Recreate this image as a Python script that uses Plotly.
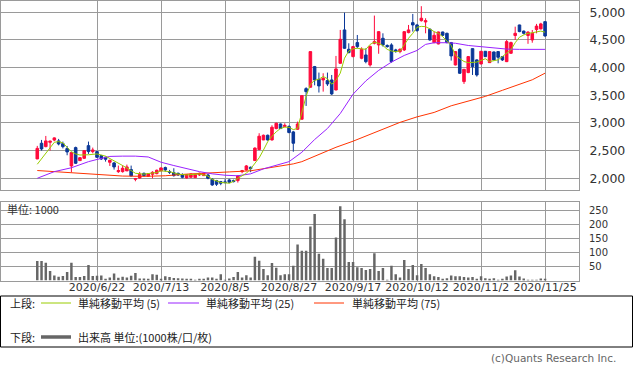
import plotly.graph_objects as go

# ---------------- data ----------------
jun = [2, 3, 4, 5, 8, 9, 10, 11, 12, 15, 16, 17, 18, 19, 22, 23, 24, 25, 26, 29, 30]
jul = [1, 2, 3, 6, 7, 8, 9, 10, 13, 14, 15, 16, 17, 20, 21, 22, 27, 28, 29, 30, 31]
aug = [3, 4, 5, 6, 7, 11, 12, 13, 14, 17, 18, 19, 20, 21, 24, 25, 26, 27, 28, 31]
sep = [1, 2, 3, 4, 7, 8, 9, 10, 11, 14, 15, 16, 17, 18, 23, 24, 25, 28, 29, 30]
octo = [1, 2, 5, 6, 7, 8, 9, 12, 13, 14, 15, 16, 19, 20, 21, 22, 23, 26, 27, 28, 29, 30]
nov = [2, 4, 5, 6, 9, 10, 11, 12, 13, 16, 17, 18, 19, 20, 24, 25]
dates = ([f"2020/6/{d}" for d in jun] + [f"2020/7/{d}" for d in jul] +
         [f"2020/8/{d}" for d in aug] + [f"2020/9/{d}" for d in sep] +
         [f"2020/10/{d}" for d in octo] + [f"2020/11/{d}" for d in nov])

tick_labels = ["2020/6/22", "2020/7/13", "2020/8/5", "2020/8/27",
               "2020/9/17", "2020/10/12", "2020/11/2", "2020/11/25"]

opens = [2350, 2633, 2572, 2650, 2690, 2675, 2626, 2536, 2223, 2554,
         2319, 2361, 2590, 2482, 2482, 2410, 2379, 2289, 2277, 2120,
         2120, 2133, 2157, 1982, 2006, 2090, 2036, 2072, 2084, 2133,
         2193, 2120, 2102, 2090, 2066, 2006, 2018, 2012, 2060, 2048,
         2060, 1982, 1958, 1940, 1935, 1970, 1960, 1958, 2120, 2151,
         2199, 2320, 2520, 2693, 2777, 2693, 2898, 2982, 2934, 2934,
         2838, 2886, 3066, 3620, 3645, 4018, 3789, 3777, 3765, 3777,
         3596, 4078, 4681, 4331, 4199, 4452, 4169, 4229, 4048, 4440,
         4410, 4530, 4400, 4410, 4320, 4290, 4320, 4633, 4813, 4771,
         4849, 4825, 4693, 4452, 4428, 4644, 4620, 4452, 4048, 4331,
         3747, 3910, 4343, 4139, 4066, 4295, 4090, 4283, 4289, 4199,
         4108, 4259, 4580, 4771, 4660, 4580, 4500, 4690, 4700, 4831]
highs = [2585, 2693, 2765, 2680, 2740, 2711, 2663, 2584, 2470, 2572,
         2380, 2510, 2663, 2554, 2490, 2422, 2392, 2335, 2295, 2229,
         2235, 2247, 2229, 2006, 2115, 2102, 2090, 2127, 2157, 2193,
         2211, 2151, 2181, 2102, 2090, 2072, 2084, 2072, 2102, 2096,
         2078, 2000, 1970, 1952, 1982, 1990, 1975, 2055, 2151, 2240,
         2211, 2560, 2814, 2790, 2790, 2958, 3006, 2990, 2994, 2958,
         2856, 3024, 3494, 3645, 4290, 4030, 3910, 3898, 3910, 3867,
         4211, 4681, 4994, 4440, 4392, 4590, 4367, 4349, 4400, 4940,
         4660, 4620, 4420, 4440, 4340, 4350, 4660, 4771, 4970, 4790,
         5110, 4892, 4711, 4651, 4650, 4650, 4632, 4464, 4300, 4349,
         3975, 4210, 4349, 4150, 4300, 4300, 4295, 4290, 4295, 4210,
         4500, 4470, 4740, 4775, 4670, 4660, 4680, 4790, 4810, 4831]
lows = [2345, 2500, 2560, 2500, 2670, 2595, 2540, 2416, 2108, 2259,
        2313, 2349, 2440, 2452, 2370, 2331, 2301, 2223, 2157, 2096,
        2102, 2133, 2036, 1946, 1994, 2030, 2030, 2000, 2072, 2130,
        2120, 2078, 2030, 2042, 2000, 1994, 2012, 2006, 2042, 2042,
        1982, 1862, 1862, 1875, 1910, 1910, 1925, 1922, 2091, 2140,
        2110, 2314, 2505, 2690, 2680, 2681, 2886, 2890, 2922, 2814,
        2480, 2874, 3066, 3307, 3640, 3680, 3550, 3566, 3669, 3506,
        3590, 4070, 4340, 4259, 4187, 4349, 4151, 4078, 4018, 4420,
        4250, 4380, 4360, 4090, 4270, 4260, 4300, 4620, 4651, 4650,
        4831, 4620, 4488, 4440, 4420, 4570, 4440, 4127, 4040, 3886,
        3705, 3900, 3867, 3837, 4060, 4190, 4085, 4130, 4078, 4120,
        4100, 4250, 4500, 4640, 4600, 4430, 4450, 4620, 4690, 4560]
closes = [2540, 2530, 2675, 2670, 2730, 2620, 2572, 2476, 2464, 2271,
          2373, 2500, 2482, 2512, 2379, 2349, 2343, 2325, 2205, 2139,
          2181, 2205, 2042, 1994, 2072, 2048, 2084, 2108, 2145, 2187,
          2151, 2110, 2048, 2060, 2018, 2066, 2078, 2066, 2090, 2090,
          2000, 1880, 1892, 1910, 1922, 1928, 1940, 2042, 2135, 2223,
          2175, 2545, 2760, 2777, 2693, 2922, 2994, 2898, 2958, 2826,
          2633, 2982, 3494, 3566, 4289, 3777, 3669, 3807, 3705, 3524,
          3976, 4512, 4349, 4271, 4380, 4380, 4331, 4108, 4380, 4470,
          4650, 4410, 4380, 4108, 4290, 4330, 4650, 4681, 4771, 4669,
          4892, 4849, 4500, 4584, 4644, 4584, 4452, 4211, 4289, 3898,
          3970, 4199, 4018, 3867, 4295, 4199, 4289, 4139, 4187, 4139,
          4470, 4452, 4620, 4651, 4620, 4640, 4620, 4750, 4790, 4572]

volume = [69, 69, 63, 34, 18, 13, 16, 30, 63, 12,
          12, 16, 55, 16, 17, 18, 6, 11, 25, 10,
          13, 11, 17, 27, 7, 7, 5, 22, 20, 6,
          15, 12, 9, 8, 7, 6, 4, 2, 3, 5,
          11, 11, 6, 22, 2, 7, 12, 30, 11, 19,
          11, 84, 70, 41, 19, 62, 45, 19, 22, 22,
          52, 128, 106, 106, 192, 236, 95, 77, 44, 44,
          153, 264, 218, 66, 66, 47, 44, 37, 41, 97,
          34, 44, 1, 52, 22, 11, 73, 41, 55, 19,
          59, 44, 22, 15, 12, 5, 8, 18, 15, 15,
          12, 11, 12, 5, 15, 8, 5, 8, 2, 5,
          14, 18, 36, 14, 7, 2, 2, 2, 7, 3]

# moving averages (index into dates, value)
ma5_idx = [0, 2, 4, 5, 6, 7, 8, 9, 10, 12, 14, 16, 18, 20, 22, 23, 25, 27, 28, 29,
           31, 33, 35, 38, 40, 41, 43, 45, 46, 47, 48, 49, 50, 51, 52, 53, 54, 55, 56, 57,
           58, 59, 60, 61, 62, 63, 64, 65, 66, 67, 68, 69, 70, 71, 72, 73, 74, 75, 76, 77,
           78, 79, 80, 81, 82, 83, 84, 85, 86, 87, 88, 89, 90, 91, 92, 93, 94, 95, 96, 97,
           98, 99, 100, 101, 102, 103, 104, 105, 106, 107, 108, 109, 110, 111, 112, 113, 114, 115, 116, 117,
           118, 119]
ma5_val = [2253, 2450, 2650, 2663, 2640, 2560, 2480, 2440, 2420, 2425, 2440, 2400, 2320, 2230, 2140, 2090, 2075, 2090, 2105, 2135,
           2120, 2075, 2060, 2078, 2040, 1980, 1925, 1910, 1945, 2000, 2040, 2090, 2170, 2260, 2370, 2510, 2660, 2760, 2840, 2900,
           2925, 2920, 2880, 2900, 3200, 3480, 3700, 3770, 3790, 3840, 3800, 3700, 3770, 3900, 4170, 4300, 4340, 4350, 4340, 4330,
           4420, 4460, 4440, 4400, 4330, 4300, 4290, 4300, 4410, 4530, 4620, 4730, 4745, 4740, 4700, 4650, 4620, 4560, 4480, 4400,
           4220, 4160, 4110, 4090, 4090, 4100, 4130, 4160, 4110, 4130, 4140, 4200, 4260, 4320, 4450, 4550, 4590, 4620, 4630, 4650,
           4660, 4640]
ma25_idx = [0, 4, 8, 12, 14, 17, 20, 23, 26, 29, 32, 35, 38, 41, 44, 47, 50, 53, 56, 59,
            62, 65, 68, 71, 74, 77, 80, 83, 86, 89, 91, 93, 96, 98, 101, 104, 107, 110, 113, 116, 119]
ma25_val = [2000, 2120, 2190, 2300, 2340, 2395, 2400, 2400, 2385, 2290, 2230, 2170, 2120, 2080, 2055, 2045, 2080, 2170, 2240, 2300,
            2470, 2700, 2900, 3170, 3520, 3760, 3950, 4100, 4220, 4310, 4420, 4450, 4450, 4440, 4400, 4380, 4350, 4335, 4330, 4330, 4330]
ma75_idx = [0, 5, 10, 15, 20, 25, 30, 35, 40, 45, 50, 55, 60, 62, 66, 70, 74, 78, 82, 85,
            89, 93, 97, 101, 105, 109, 113, 116, 119]
ma75_val = [2140, 2115, 2090, 2060, 2040, 2035, 2045, 2075, 2100, 2115, 2135, 2195, 2260, 2300, 2430, 2560, 2670, 2790, 2920, 3010,
            3110, 3190, 3310, 3400, 3480, 3590, 3700, 3780, 3900]

# ---------------- figure ----------------
W, H = 633, 375
GRID = "#9a9a9a"
FONT = "DejaVu Sans, Noto Sans CJK JP, sans-serif"
JP = "Noto Sans CJK JP, DejaVu Sans, sans-serif"

fig = go.Figure()

fig.add_trace(go.Candlestick(
    x=dates, open=opens, high=highs, low=lows, close=closes,
    increasing=dict(line=dict(color="#ff0a3c", width=1), fillcolor="#ff0a3c"),
    decreasing=dict(line=dict(color="#0a3797", width=1), fillcolor="#0a3797"),
    whiskerwidth=0, showlegend=False, xaxis="x", yaxis="y", hoverinfo="skip"))

fig.add_trace(go.Scatter(x=[dates[i] for i in ma75_idx], y=ma75_val, mode="lines",
                         line=dict(color="#ff3300", width=1), showlegend=False))
fig.add_trace(go.Scatter(x=[dates[i] for i in ma25_idx], y=ma25_val, mode="lines",
                         line=dict(color="#9922ff", width=1), showlegend=False))
fig.add_trace(go.Scatter(x=[dates[i] for i in ma5_idx], y=ma5_val, mode="lines",
                         line=dict(color="#99cc00", width=1), showlegend=False))

fig.add_trace(go.Bar(x=dates, y=volume, marker=dict(color="#666666", line=dict(width=0)),
                     xaxis="x2", yaxis="y2", showlegend=False))

xr = [-8.5, 126.95]
xdom = [1 / W, 579 / W]
common_x = dict(type="category", categoryorder="array", categoryarray=dates,
                range=xr, domain=xdom, tickvals=tick_labels, ticktext=tick_labels,
                showgrid=True, gridcolor=GRID, gridwidth=1, showline=True, mirror=True,
                linecolor=GRID, linewidth=1, ticks="", zeroline=False)

fig.update_layout(
    width=W, height=H, margin=dict(l=0, r=0, t=0, b=0),
    paper_bgcolor="white", plot_bgcolor="white",
    boxgap=0.4, boxgroupgap=0, bargap=0.42,
    xaxis=dict(**common_x, showticklabels=False, anchor="y",
               rangeslider=dict(visible=False)),
    yaxis=dict(domain=[1 - 190 / H, 1 - 0.5 / H], range=[1788, 5213], side="right",
               tickvals=[2000, 2500, 3000, 3500, 4000, 4500, 5000], tickformat=",",
               showgrid=True, gridcolor=GRID, gridwidth=1, showline=True, mirror=True,
               linecolor=GRID, linewidth=1, ticks="", zeroline=False,
               tickfont=dict(family=FONT, size=12.5, color="#333333"),
               ticklabelstandoff=7, anchor="x"),
    xaxis2=dict(**common_x, showticklabels=True, anchor="y2", matches="x",
                tickfont=dict(family=FONT, size=11, color="#333333"),
                ticklabelstandoff=-4),
    yaxis2=dict(domain=[1 - 280.5 / H, 1 - 201.7 / H], range=[0, 280], side="right",
                tickvals=[50, 100, 150, 200, 250],
                showgrid=True, gridcolor=GRID, gridwidth=1, showline=True, mirror=True,
                linecolor=GRID, linewidth=1, ticks="", zeroline=False,
                tickfont=dict(family=FONT, size=10, color="#333333"),
                ticklabelstandoff=7, anchor="x2"),
    hovermode=False,
)

def py(y):
    return 1 - y / H

def px(x):
    return x / W

annotations = [
    dict(text="単位: 1000", x=px(5), y=py(209), xanchor="left", yanchor="middle",
         font=dict(family=JP, size=11, color="#333333")),
    dict(text="上段:", x=px(8), y=py(303), xanchor="left", yanchor="middle",
         font=dict(family=JP, size=11, color="#222222")),
    dict(text="単純移動平均 (5)", x=px(76), y=py(303), xanchor="left", yanchor="middle",
         font=dict(family=JP, size=11, color="#222222")),
    dict(text="単純移動平均 (25)", x=px(204), y=py(303), xanchor="left", yanchor="middle",
         font=dict(family=JP, size=11, color="#222222")),
    dict(text="単純移動平均 (75)", x=px(350), y=py(303), xanchor="left", yanchor="middle",
         font=dict(family=JP, size=11, color="#222222")),
    dict(text="下段:", x=px(8), y=py(337), xanchor="left", yanchor="middle",
         font=dict(family=JP, size=11, color="#222222")),
    dict(text="出来高 単位:(1000株/口/枚)", x=px(76), y=py(337), xanchor="left", yanchor="middle",
         font=dict(family=JP, size=11, color="#222222")),
    dict(text="(c)Quants Research Inc.", x=px(618), y=py(358), xanchor="right", yanchor="middle",
         font=dict(family=FONT, size=10.5, color="#666666")),
]
for a in annotations:
    a.update(xref="paper", yref="paper", showarrow=False)

shapes = [
    dict(type="rect", x0=px(0.5), x1=px(632.5), y0=py(296), y1=py(347),
         line=dict(color="#000000", width=1)),
    dict(type="line", x0=px(41), x1=px(71), y0=py(303), y1=py(303),
         line=dict(color="#99cc00", width=1)),
    dict(type="line", x0=px(168), x1=px(199), y0=py(303), y1=py(303),
         line=dict(color="#9922ff", width=1)),
    dict(type="line", x0=px(314), x1=px(344), y0=py(303), y1=py(303),
         line=dict(color="#ff3300", width=1)),
    dict(type="line", x0=px(41), x1=px(71), y0=py(337), y1=py(337),
         line=dict(color="#666666", width=3.5)),
]
for s in shapes:
    s.update(xref="paper", yref="paper")

fig.update_layout(annotations=annotations, shapes=shapes)

fig.write_html(
    "out.html",
    config={"displayModeBar": False},
    post_script="document.body.style.margin='0';document.body.style.padding='0';"
                "document.documentElement.style.overflow='hidden';",
)
